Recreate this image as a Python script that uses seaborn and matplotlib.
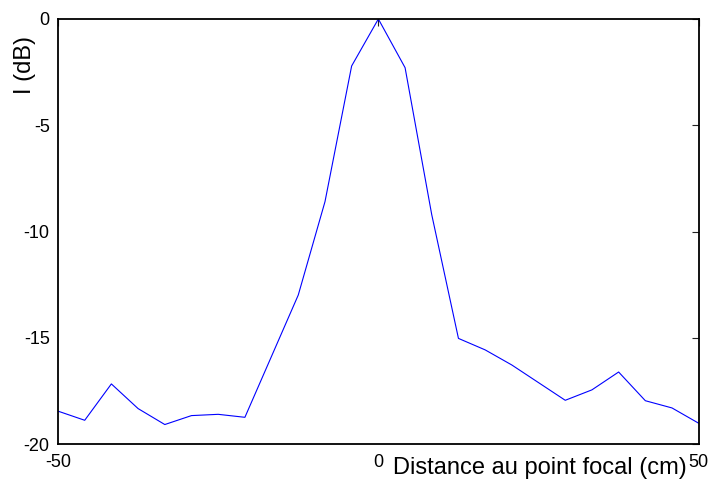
import matplotlib
matplotlib.use("Agg")
import matplotlib.pyplot as plt
import seaborn as sns
import pandas as pd

distance_cm = [-50, -45.83, -41.67, -37.5, -33.33, -29.17, -25, -20.83,
               -12.5, -8.33, -4.17, 0, 4.17, 8.33, 12.5, 16.67, 20.83,
               29.17, 33.33, 37.5, 41.67, 45.83, 50]
intensity_db = [-18.44, -18.87, -17.16, -18.32, -19.07, -18.65, -18.59, -18.73,
                -12.98, -8.59, -2.21, 0.0, -2.29, -9.2, -15.02, -15.56, -16.27,
                -17.93, -17.44, -16.6, -17.95, -18.29, -19.01]
x_ticks = [-50, 0, 50]
y_ticks = [-20, -15, -10, -5, 0]

sns.set_style("white")
plt.rcParams['font.family'] = ['Liberation Sans', 'DejaVu Sans']
plt.rcParams['text.color'] = 'black'

df = pd.DataFrame({"x": distance_cm, "y": intensity_db})

fig = plt.figure(figsize=(7.09, 4.83), dpi=100)
ax = fig.add_axes([0.0818, 0.0801, 0.9037, 0.8806])
sns.lineplot(data=df, x="x", y="y", ax=ax, color="#0000ff", linewidth=0.8,
             sort=False, estimator=None)

ax.set_xlim(-50, 50)
ax.set_ylim(-20, 0)
ax.set_xticks(x_ticks)
ax.set_yticks(y_ticks)
ax.set_xticklabels([str(v) for v in x_ticks])
ax.set_yticklabels([str(v) for v in y_ticks])
ax.tick_params(direction="in", length=5, width=0.8, color="#222222",
               top=True, right=True, labelsize=13, labelcolor="black")
ax.tick_params(axis="x", pad=7)
ax.tick_params(axis="y", pad=6)

for s in ax.spines.values():
    s.set_visible(True)
    s.set_color("black")
    s.set_linewidth(1.3)

ax.set_xlabel("Distance au point focal (cm)", fontsize=17, color="black")
ax.xaxis.set_label_coords(0.752, -0.056)
ax.xaxis.label.set_va("center")
ax.set_ylabel("I (dB)", fontsize=17, color="black")
ax.yaxis.set_label_coords(-0.0515, 0.892)
ax.yaxis.label.set_va("center")

fig.savefig("out.png", dpi=100)
